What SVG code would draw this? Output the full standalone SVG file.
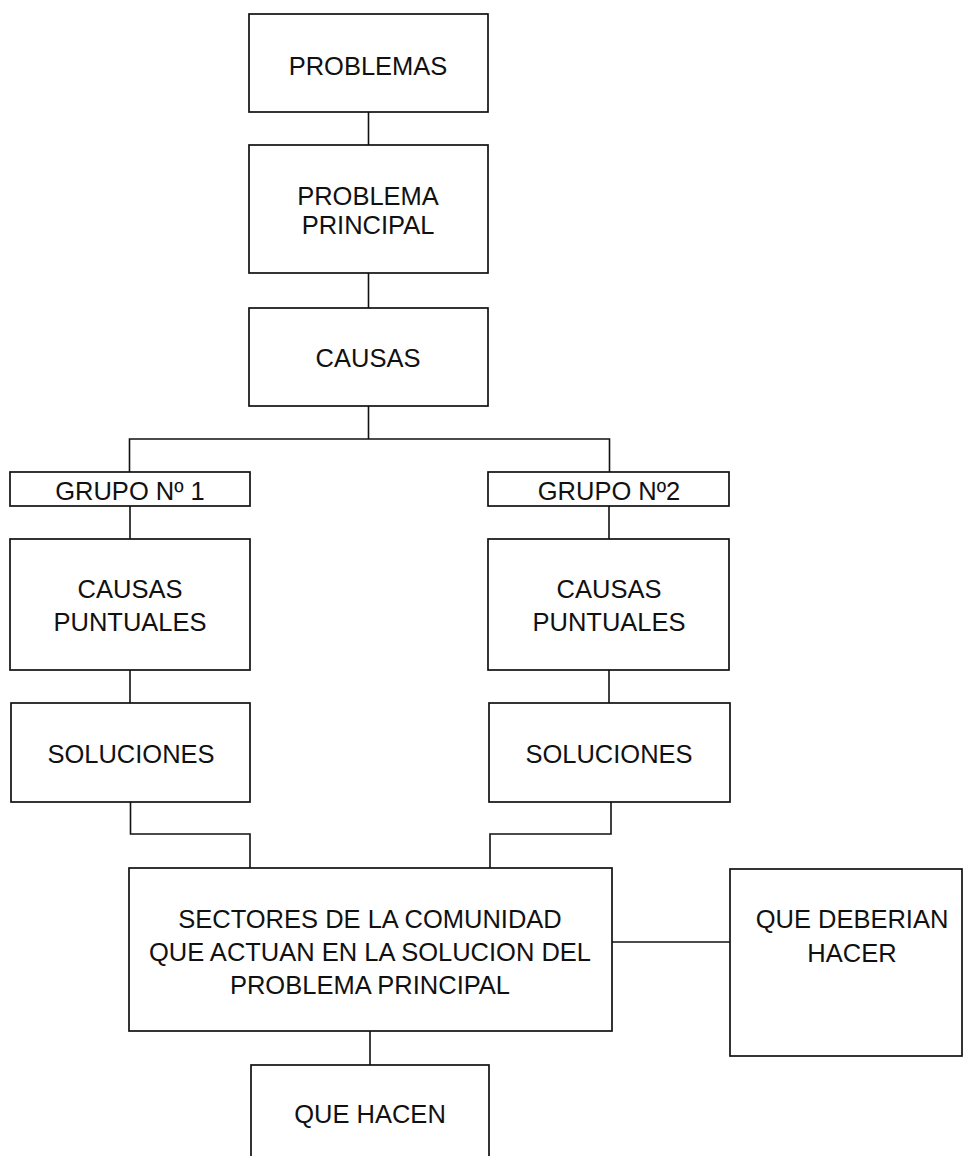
<svg xmlns="http://www.w3.org/2000/svg" width="964" height="1156" viewBox="0 0 964 1156">
<style>
.box{fill:#fff;stroke:#111;stroke-width:1.7}
.ln{fill:none;stroke:#111;stroke-width:1.6}
.t{font-family:"Liberation Sans",Arial,sans-serif;font-size:25.5px;fill:#111;text-anchor:middle}
</style>
<rect width="964" height="1156" fill="#fff"/>
<g id="connectors">
<path class="ln" d="M368.5 112 V145"/>
<path class="ln" d="M368.5 273 V308"/>
<path class="ln" d="M368.5 406 V439 M129.5 472 V439 H609.5 V472"/>
<path class="ln" d="M130 506 V539"/>
<path class="ln" d="M609 506 V539"/>
<path class="ln" d="M130 670 V703"/>
<path class="ln" d="M609 670 V703"/>
<path class="ln" d="M130.5 802 V834 H250 V868"/>
<path class="ln" d="M611 802 V834 H490 V868"/>
<path class="ln" d="M612 942 H730"/>
<path class="ln" d="M370 1031 V1065"/>
</g>
<g id="problemas"><rect class="box" x="249" y="14" width="239" height="98"/><text class="t" x="368" y="75">PROBLEMAS</text></g>
<g id="problema-principal"><rect class="box" x="249" y="145" width="239" height="128"/><text class="t" x="368" y="205">PROBLEMA</text><text class="t" x="368" y="234">PRINCIPAL</text></g>
<g id="causas"><rect class="box" x="249" y="308" width="239" height="98"/><text class="t" x="368" y="367">CAUSAS</text></g>
<g id="grupo1"><rect class="box" x="10" y="472" width="240" height="34"/><text class="t" x="130" y="500">GRUPO Nº 1</text></g>
<g id="grupo2"><rect class="box" x="488" y="472" width="241" height="34"/><text class="t" x="609" y="500">GRUPO Nº2</text></g>
<g id="causas-puntuales-1"><rect class="box" x="10" y="539" width="240" height="131"/><text class="t" x="130" y="598">CAUSAS</text><text class="t" x="130" y="631">PUNTUALES</text></g>
<g id="causas-puntuales-2"><rect class="box" x="488" y="539" width="241" height="131"/><text class="t" x="609" y="598">CAUSAS</text><text class="t" x="609" y="631">PUNTUALES</text></g>
<g id="soluciones-1"><rect class="box" x="11" y="703" width="239" height="99"/><text class="t" x="131" y="763">SOLUCIONES</text></g>
<g id="soluciones-2"><rect class="box" x="489" y="703" width="241" height="99"/><text class="t" x="609" y="763">SOLUCIONES</text></g>
<g id="sectores"><rect class="box" x="129" y="868" width="483" height="163"/><text class="t" x="370" y="928">SECTORES DE LA COMUNIDAD</text><text class="t" x="370" y="961">QUE ACTUAN EN LA SOLUCION DEL</text><text class="t" x="370" y="994">PROBLEMA PRINCIPAL</text></g>
<g id="que-deberian"><rect class="box" x="730" y="869" width="232" height="187"/><text class="t" x="852" y="928">QUE DEBERIAN</text><text class="t" x="852" y="962">HACER</text></g>
<g id="que-hacen"><rect class="box" x="251" y="1065" width="238" height="110"/><text class="t" x="370" y="1123">QUE HACEN</text></g>
</svg>
